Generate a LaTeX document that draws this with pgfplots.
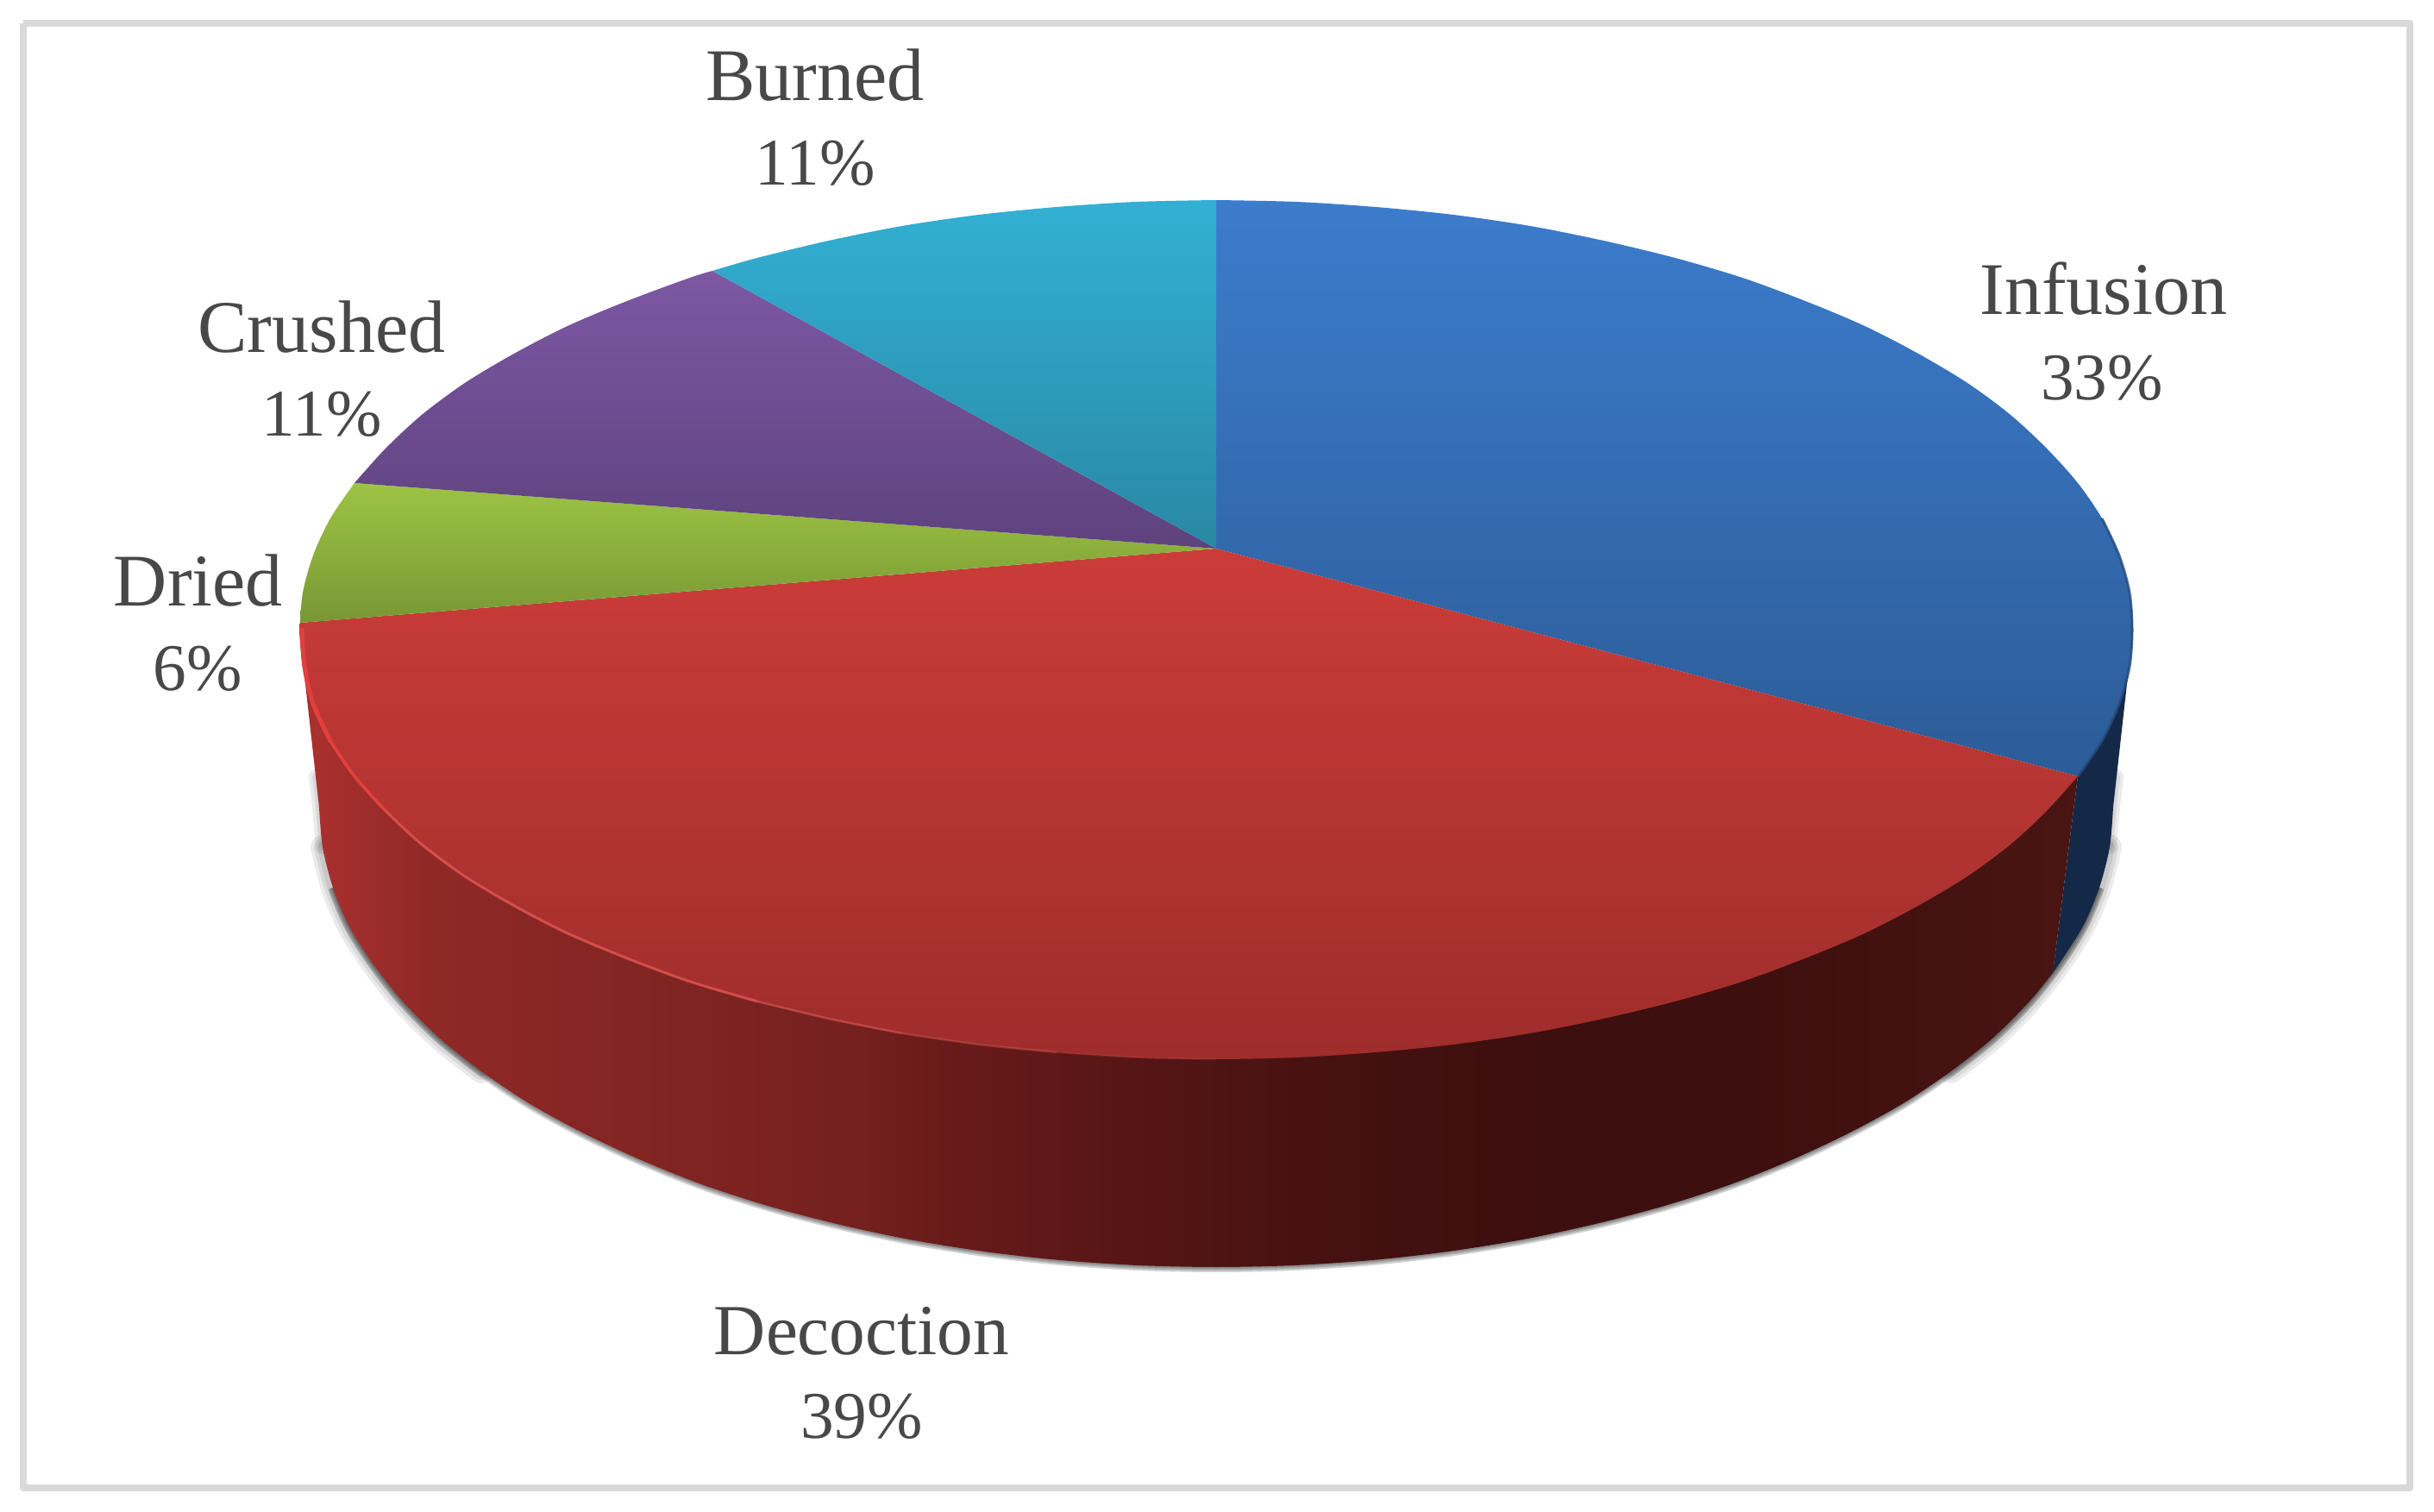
\documentclass[border=0pt]{standalone}
\usepackage{fontspec}
\setmainfont{Liberation Serif}
\usepackage{pgfplots}
\pgfplotsset{compat=1.18}
\definecolor{framec}{HTML}{D9D9D9}
\definecolor{labelc}{HTML}{484848}
\definecolor{red1}{HTML}{A8302E}
\definecolor{red2}{HTML}{8F2926}
\definecolor{red3}{HTML}{7F2422}
\definecolor{red4}{HTML}{74201F}
\definecolor{red5}{HTML}{6A1B1A}
\definecolor{red6}{HTML}{5A1716}
\definecolor{red7}{HTML}{4C1312}
\definecolor{red8}{HTML}{421010}
\definecolor{red9}{HTML}{3D0F0E}
\definecolor{red10}{HTML}{4A1513}
\pgfdeclarehorizontalshading{redside}{100bp}{
 color(0bp)=(red1);
 color(25.6bp)=(red1);
 color(28.7bp)=(red2);
 color(36bp)=(red3);
 color(40.8bp)=(red4);
 color(42.8bp)=(red5);
 color(47.1bp)=(red6);
 color(51.5bp)=(red7);
 color(55.9bp)=(red8);
 color(60.2bp)=(red9);
 color(66bp)=(red9);
 color(75bp)=(red10);
 color(100bp)=(red10)}
\newcommand{\lab}[3]{\node[anchor=base,text=labelc,inner sep=0pt,font=\fontsize{24.5}{28}\selectfont] at (axis cs:#1,#2) {#3};}
\newcommand{\labs}[3]{\node[anchor=base,text=labelc,inner sep=0pt,font=\fontsize{22}{28}\selectfont] at (axis cs:#1,#2) {#3};}
\newcommand{\shadowsides}[1]{%
\addplot[smooth, draw=black, opacity=0.08, line width=#1cm, line cap=round] coordinates {(2446,982)(2434,1029)(2415,1074)(2387,1118)(2353,1161)(2311,1203)(2262,1242)};
\addplot[smooth, draw=black, opacity=0.08, line width=#1cm, line cap=round] coordinates {(558,1242)(509,1203)(467,1161)(433,1118)(405,1074)(386,1029)(374,982)};}
\newcommand{\shadowupper}[1]{%
\addplot[draw=black, opacity=0.08, line width=#1cm, line cap=round] coordinates {(2454,900)(2450,936)(2446,982)};
\addplot[draw=black, opacity=0.08, line width=#1cm, line cap=round] coordinates {(374,982)(370,936)(366,900)};}
\newcommand{\shadowfull}[1]{%
\addplot[smooth, draw=black, opacity=0.18, line width=#1cm] coordinates {(2434,1029)(2415,1074)(2387,1118)(2353,1161)(2311,1203)(2262,1242)(2207,1279)(2145,1313)(2079,1344)(2007,1373)(1930,1398)(1850,1419)(1766,1437)(1679,1451)(1591,1461)(1501,1467)(1410,1469)(1319,1467)(1229,1461)(1141,1451)(1054,1437)(970,1419)(890,1398)(813,1373)(741,1344)(675,1313)(613,1279)(558,1242)(509,1203)(467,1161)(433,1118)(405,1074)(386,1029)};}
\begin{document}
\begin{tikzpicture}
\begin{axis}[
  scale only axis, width=28.22cm, height=17.53cm,
  xmin=0, xmax=2822, ymin=0, ymax=1753, y dir=reverse,
  hide axis, clip=true, line join=round]
% page background, holds the picture's full extent
\addplot[draw=none, fill=white] coordinates {(0,0)(2822,0)(2822,1753)(0,1753)(0,0)};
% frame
\addplot[draw=framec, line width=0.075cm] coordinates {(27,27)(2794,27)(2794,1725)(27,1725)(27,27)};
% shadow
\shadowupper{0.16}
\shadowupper{0.08}
\shadowsides{0.28}
\shadowsides{0.20}
\shadowsides{0.12}
\shadowfull{0.12}
\shadowfull{0.08}
\shadowfull{0.04}
% side: Infusion
\addplot[smooth, draw=none, fill={rgb,255:red,20;green,41;blue,72}] coordinates {(2450,936)(2446,982)(2434,1029)(2415,1074)(2387,1118)(2380,1128)} -- (axis cs:2409,900) -- (axis cs:2473,730) -- cycle;
% side: Decoction
\addplot[smooth, draw=none, shading=redside] coordinates {(2380,1128)(2353,1161)(2311,1203)(2262,1242)(2207,1279)(2145,1313)(2079,1344)(2007,1373)(1930,1398)(1850,1419)(1766,1437)(1679,1451)(1591,1461)(1501,1467)(1410,1469)(1319,1467)(1229,1461)(1141,1451)(1054,1437)(970,1419)(890,1398)(813,1373)(741,1344)(675,1313)(613,1279)(558,1242)(509,1203)(467,1161)(433,1118)(405,1074)(386,1029)(374,982)(370,936)} -- (axis cs:347,730) -- (axis cs:2409,900) -- cycle;
% top: Infusion 33
\addplot[smooth, draw=none, top color={rgb,255:red,60;green,124;blue,204}, bottom color={rgb,255:red,44;green,92;blue,152}] coordinates {(1410,232)(1503,234)(1595,240)(1685,249)(1774,262)(1859,279)(1942,299)(2020,322)(2093,349)(2162,378)(2224,410)(2281,444)(2331,481)(2373,520)(2409,560)(2437,601)(2457,644)(2469,687)(2473,730)(2469,773)(2457,816)(2437,859)(2409,900)} -- (axis cs:1410,636) -- cycle;
% top: Decoction 39
\addplot[smooth, draw=none, top color={rgb,255:red,203;green,60;blue,57}, bottom color={rgb,255:red,158;green,45;blue,43}] coordinates {(2409,900)(2373,940)(2331,979)(2281,1016)(2224,1050)(2162,1082)(2093,1111)(2020,1138)(1942,1161)(1859,1181)(1774,1198)(1685,1211)(1595,1220)(1503,1226)(1410,1228)(1317,1226)(1225,1220)(1135,1211)(1046,1198)(961,1181)(878,1161)(800,1138)(727,1111)(658,1082)(596,1050)(539,1016)(489,979)(447,940)(411,900)(383,859)(363,816)(351,773)(347,730)(348,722)} -- (axis cs:1410,636) -- cycle;
% top: Dried 6
\addplot[smooth, draw=none, top color={rgb,255:red,157;green,196;blue,68}, bottom color={rgb,255:red,120;green,151;blue,52}] coordinates {(348,722)(351,687)(363,644)(383,601)(411,560)} -- (axis cs:1410,636) -- cycle;
% top: Crushed 11
\addplot[smooth, draw=none, top color={rgb,255:red,125;green,88;blue,164}, bottom color={rgb,255:red,94;green,66;blue,126}] coordinates {(411,560)(447,520)(489,481)(539,444)(596,410)(658,378)(727,349)(800,322)(826,314)} -- (axis cs:1410,636) -- cycle;
% top: Burned 11
\addplot[smooth, draw=none, top color={rgb,255:red,50;green,176;blue,212}, bottom color={rgb,255:red,41;green,136;blue,164}] coordinates {(826,314)(878,299)(961,279)(1046,262)(1135,249)(1225,240)(1317,234)(1410,232)} -- (axis cs:1410,636) -- cycle;
% rim highlights
\addplot[smooth, draw={rgb,255:red,216;green,90;blue,86}, opacity=0.2, line width=0.02cm] coordinates {(1410,1228)(1317,1226)(1225,1220)};
\addplot[smooth, draw={rgb,255:red,216;green,90;blue,86}, opacity=0.4, line width=0.025cm] coordinates {(1225,1220)(1135,1211)(1046,1198)};
\addplot[smooth, draw={rgb,255:red,216;green,90;blue,86}, opacity=0.6, line width=0.025cm] coordinates {(1046,1198)(961,1181)(878,1161)};
\addplot[smooth, draw={rgb,255:red,222;green,84;blue,80}, opacity=0.85, line width=0.03cm] coordinates {(878,1161)(800,1138)(727,1111)(658,1082)(596,1050)(539,1016)(489,979)(447,940)(411,900)(383,859)(363,816)};
\addplot[smooth, draw={rgb,255:red,226;green,64;blue,60}, line width=0.035cm] coordinates {(447,940)(411,900)(383,859)};
\addplot[smooth, draw={rgb,255:red,226;green,64;blue,60}, line width=0.05cm, line cap=round] coordinates {(383,859)(363,816)(353,773)(350,730)};
\addplot[smooth, draw={rgb,255:red,36;green,76;blue,124}, opacity=0.8, line width=0.03cm] coordinates {(2437,601)(2457,644)(2469,687)(2472,730)(2469,773)(2457,816)(2437,859)(2409,900)};
% labels
\lab{945}{117}{Burned}
\labs{945}{215}{11\%}
\lab{2439}{365}{Infusion}
\labs{2437}{464}{33\%}
\lab{373}{409}{Crushed}
\labs{373}{506}{11\%}
\lab{230}{703}{Dried}
\labs{229}{801}{6\%}
\node[anchor=base,text=labelc,inner sep=0pt,font=\fontsize{23.7}{28}\selectfont] at (axis cs:999,1570) {Decoction};
\labs{999}{1667}{39\%}
\end{axis}
\end{tikzpicture}
\end{document}
